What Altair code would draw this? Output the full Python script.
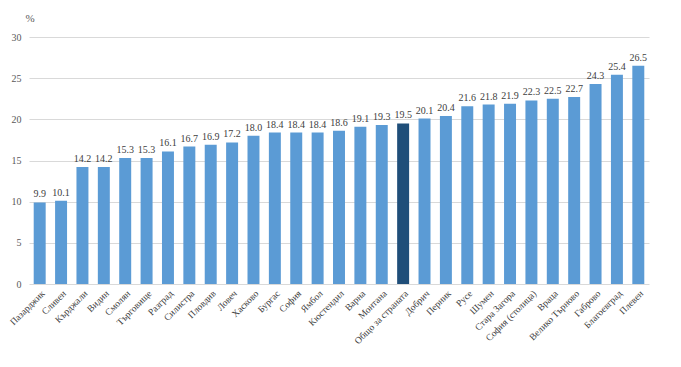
import altair as alt
import pandas as pd

categories = ["Пазарджик", "Сливен", "Кърджали", "Видин", "Смолян", "Търговище", "Разград",
              "Силистра", "Пловдив", "Ловеч", "Хасково", "Бургас", "София", "Ямбол",
              "Кюстендил", "Варна", "Монтана", "Общо за страната", "Добрич", "Перник",
              "Русе", "Шумен", "Стара Загора", "София (столица)", "Враца", "Велико Търново",
              "Габрово", "Благоевград", "Плевен"]
values = [9.9, 10.1, 14.2, 14.2, 15.3, 15.3, 16.1, 16.7, 16.9, 17.2, 18.0, 18.4, 18.4, 18.4,
          18.6, 19.1, 19.3, 19.5, 20.1, 20.4, 21.6, 21.8, 21.9, 22.3, 22.5, 22.7, 24.3, 25.4, 26.5]
highlight = "Общо за страната"

df = pd.DataFrame({"cat": categories, "val": values})
df["grp"] = ["total" if c == highlight else "region" for c in categories]
df["lbl"] = [f"{v:.1f}" for v in values]

FONT = "Liberation Serif"

x = alt.X("cat:N", sort=categories, title=None,
          scale=alt.Scale(paddingInner=0.44, paddingOuter=0.22),
          axis=alt.Axis(labelAngle=-45, labelFont=FONT, labelFontSize=9.5, labelColor="#404040",
                        ticks=False, domain=False, labelPadding=4))

bars = alt.Chart(df).mark_bar().encode(
    x=x,
    y=alt.Y("val:Q", scale=alt.Scale(domain=[0, 30]),
            axis=alt.Axis(values=[0, 5, 10, 15, 20, 25, 30], title="%", titleAngle=0,
                          titleX=-4, titleY=-19, titleAlign="left", titleBaseline="middle",
                          titleFont=FONT, titleFontSize=11, titleFontWeight="normal",
                          titleColor="#595959",
                          labelFont=FONT, labelFontSize=10, labelColor="#595959",
                          ticks=False, domain=False, labelPadding=8,
                          gridColor="#d9d9d9", gridWidth=1)),
    color=alt.Color("grp:N", scale=alt.Scale(domain=["region", "total"],
                                             range=["#5b9bd5", "#1f4e79"]), legend=None),
)

text = alt.Chart(df).mark_text(dy=-8, font=FONT, fontSize=10, color="#404040").encode(
    x=alt.X("cat:N", sort=categories),
    y="val:Q",
    text="lbl:N",
)

chart = alt.layer(bars, text).properties(
    width=620, height=247,
    autosize=alt.AutoSizeParams(type="none"),
    padding={"left": 21, "top": 29, "right": 20, "bottom": 80},
).configure_view(strokeWidth=0)

chart.save("out.html", embed_options={"renderer": "svg", "actions": False})
